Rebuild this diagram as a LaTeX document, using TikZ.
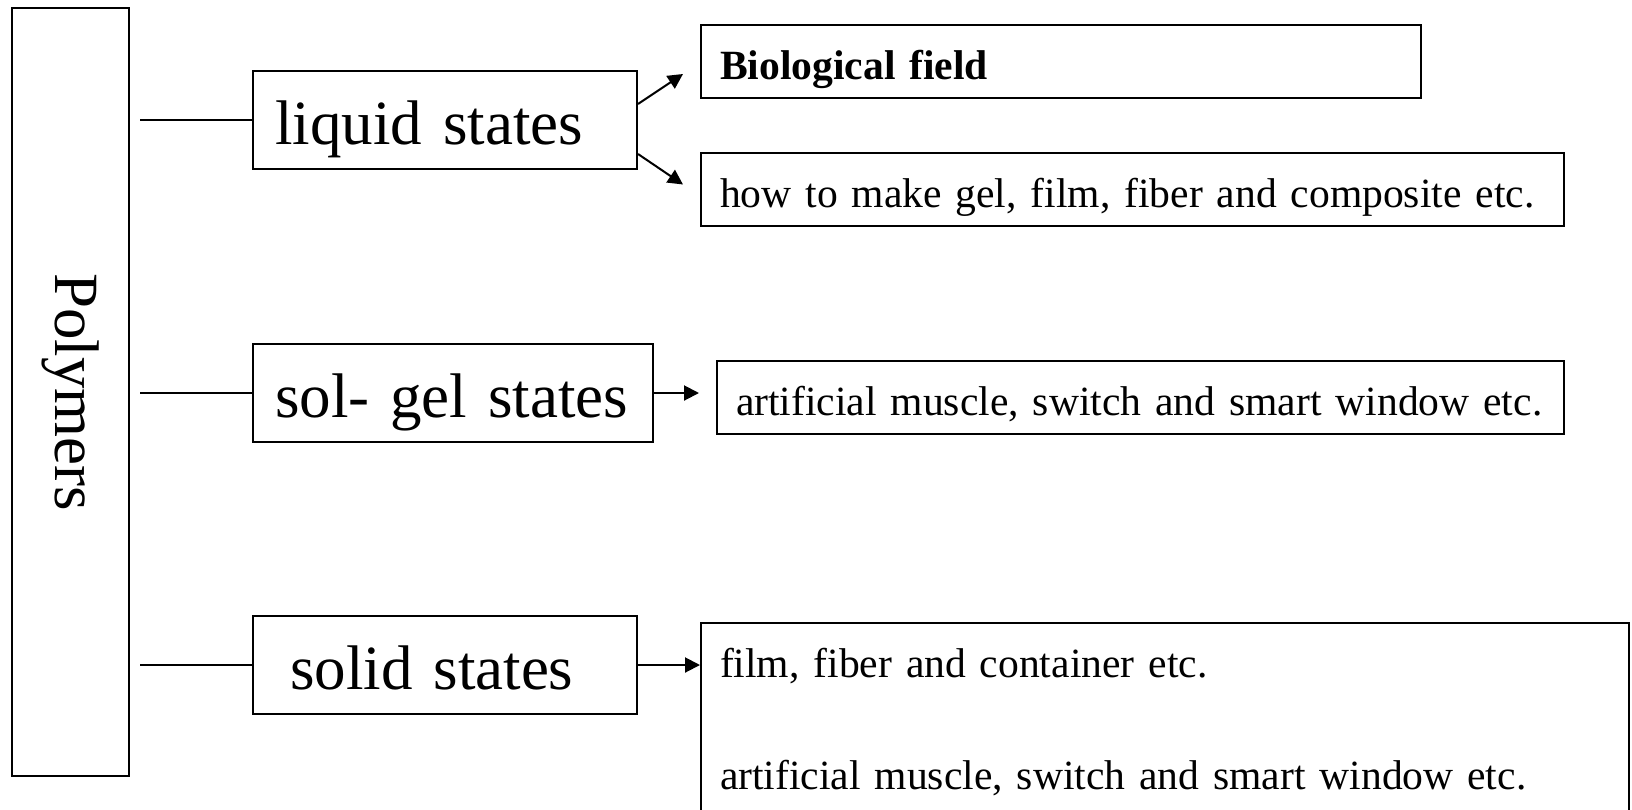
\documentclass[tikz,border=0pt]{standalone}
\usepackage{fontspec}
\setmainfont{Liberation Serif}
\usetikzlibrary{arrows.meta,calc,positioning}

\newcommand{\statesize}{\fontsize{31.5pt}{38pt}\selectfont}
\newcommand{\appsize}{\fontsize{20.8pt}{56pt}\selectfont}

\begin{document}
\begin{tikzpicture}[
    x=0.5pt, y=-0.5pt,
    every node/.style={draw, rectangle, line width=1pt, anchor=north west, inner ysep=0pt},
    state/.style={font=\statesize, inner xsep=11pt, text height=36.5pt, text depth=12.5pt, align=left},
    app/.style={font=\appsize, inner xsep=9.5pt, text height=27pt, text depth=9.5pt, align=left},
    link/.style={line width=1pt},
    arr/.style={line width=1pt, -{Triangle[length=7.5pt,width=7.5pt]}}
]
    \useasboundingbox (0,0) rectangle (1632,809);

    % root
    \node[anchor=center, rotate=-90, font=\statesize, inner sep=0pt,
          minimum width=384pt, minimum height=58.5pt] (poly) at (70.5,392) {Polymers};

    % states
    \node[state, text width=170pt] (liquid) at (252,70) {liquid states};
    \node[state, text width=178pt] (solgel) at (252,343) {sol- gel states};
    \node[state, text width=170pt] (solid) at (252,615) {\hspace*{7.5pt}solid states};

    % applications
    \node[app, text width=341pt] (bio) at (700,24) {\textbf{Biological field}};
    \node[app, text width=412.5pt] (make) at (700,152) {how to make gel, film, fiber and composite etc.};
    \node[app, text width=404.5pt] (muscle) at (716,360) {artificial muscle, switch and smart window etc.};
    \node[app, text width=445pt, text depth=80pt] (use) at (700,622)
        {film, fiber and container etc.\\artificial muscle, switch and smart window etc.};

    \draw[link] ([xshift=5pt]poly.north |- liquid.west) -- (liquid.west);
    \draw[link] ([xshift=5pt]poly.north |- solgel.west) -- (solgel.west);
    \draw[link] ([xshift=5pt]poly.north |- solid.west) -- (solid.west);

    \draw[arr] ([yshift=8pt]liquid.east) -- ([xshift=-8.5pt,yshift=-6.25pt]bio.west);
    \draw[arr] ([yshift=-17pt]liquid.east) -- ([xshift=-8.5pt,yshift=2.5pt]make.west);
    \draw[arr] (solgel.east) -- ([xshift=-8.5pt]muscle.west |- solgel.east);
    \draw[arr] (solid.east) -- (solid.east -| use.west);

\end{tikzpicture}
\end{document}
